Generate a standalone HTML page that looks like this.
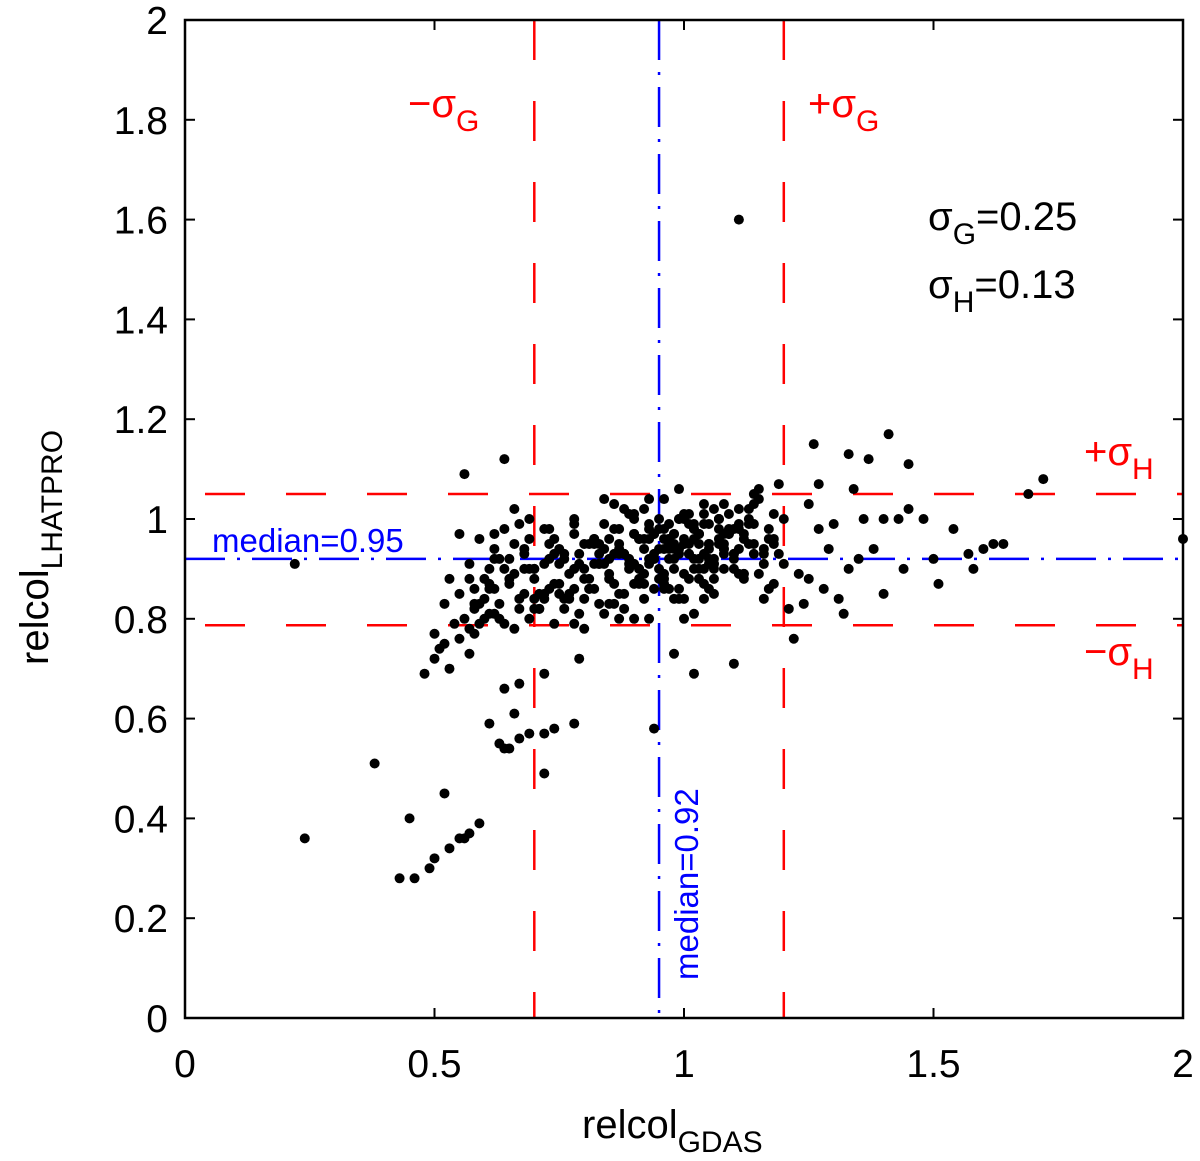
<!DOCTYPE html>
<html><head><meta charset="utf-8"><style>
html,body{margin:0;padding:0;background:#fff;}
svg{display:block;font-family:"Liberation Sans",sans-serif;}
</style></head><body>
<svg id="chart" width="1200" height="1161" viewBox="0 0 1200 1161">
<g id="grid-lines"></g>
<g id="points"></g>
<g id="axes"></g>
<g id="labels"></g>
</svg>
<script>
const xTicks=[0,0.5,1,1.5,2];
const xTickLabels=["0","0.5","1","1.5","2"];
const yTicks=[0,0.2,0.4,0.6,0.8,1,1.2,1.4,1.6,1.8,2];
const yTickLabels=["0","0.2","0.4","0.6","0.8","1","1.2","1.4","1.6","1.8","2"];
const sigmaGLines=[0.70,1.20];
const sigmaHLines=[1.05,0.787];
const medianX=0.95;
const medianY=0.92;
const pointsX=[0.24,0.22,0.38,0.43,0.46,0.45,0.52,0.49,0.50,0.53,0.55,0.57,0.59,0.56,0.64,1.11,
0.63,0.64,0.65,0.67,0.69,0.72,0.74,0.78,0.72,0.94,0.66,0.64,0.61,0.67,0.72,0.79,0.98,1.02,1.10,1.22,0.48,0.50,0.51,0.52,0.55,0.53,
1.26,1.33,1.41,1.37,1.45,1.34,1.72,1.69,2.0,1.64,1.62,1.60,1.57,1.58,1.54,1.51,1.45,1.43,1.48,1.38,1.35,1.40,1.32,1.50,1.30,1.36,1.40,1.27,1.29,1.33,1.25,1.23,1.28,1.31,1.24,1.21,1.44,1.25,1.19,1.27,
0.56,0.57,0.58,0.59,0.60,0.61,0.62,0.63,0.54,0.55,0.57,0.58,0.60,0.61,0.63,0.65,0.66,0.67,0.68,0.69,0.70,0.71,0.72,0.73,0.74,0.75,0.76,0.77,0.78,0.79,
0.80,0.81,0.82,0.83,0.84,0.85,0.86,0.87,0.88,0.89,0.90,0.91,0.92,0.93,0.94,0.95,0.96,0.97,0.98,0.99,1.00,1.01,1.02,1.03,1.04,1.05,1.06,1.07,1.08,1.09,
1.10,1.11,1.12,1.13,1.14,1.15,1.16,1.17,1.18,0.60,0.62,0.64,0.66,0.68,0.70,0.72,0.74,0.76,0.78,0.80,0.82,0.84,0.86,0.88,0.90,0.92,0.94,0.96,0.98,1.00,
1.02,1.04,1.06,1.08,1.10,1.12,1.14,1.16,1.18,1.20,0.65,0.67,0.69,0.71,0.73,0.75,0.77,0.79,0.81,0.83,0.85,0.87,0.89,0.91,0.93,0.95,0.97,0.99,1.01,1.03,
1.05,1.07,1.09,1.11,1.13,1.15,1.17,1.19,0.58,0.62,0.66,0.70,0.74,0.78,0.82,0.86,0.90,0.94,0.98,1.02,1.06,1.10,1.14,1.18,0.76,0.80,0.84,0.88,0.92,0.96,
1.00,1.04,1.08,1.12,0.83,0.87,0.91,0.95,0.99,1.03,1.07,1.11,0.85,0.89,0.93,0.97,1.01,1.05,1.09,0.88,0.92,0.96,1.00,1.04,0.90,0.94,0.98,1.02,1.06,1.08,
0.95,0.97,0.99,1.01,1.03,1.05,1.07,0.70,0.75,0.80,0.85,0.90,0.96,1.00,1.04,1.08,1.13,1.17,0.68,0.73,0.78,0.83,0.88,0.93,1.00,1.05,1.15,0.53,0.56,0.58,
0.61,0.64,0.69,0.72,0.78,0.82,0.87,0.91,0.97,1.02,1.07,1.12,1.16,0.93,0.96,0.99,1.03,1.06,1.10,0.86,0.92,0.98,1.04,
0.55,0.57,0.59,0.61,0.63,0.65,0.67,0.69,0.71,0.73,0.75,0.77,0.79,0.81,0.83,0.85,0.87,0.89,0.91,0.93,0.95,0.97,0.99,1.01,1.03,1.05,1.07,1.09,1.11,1.13,
0.62,0.66,0.70,0.74,0.78,0.82,0.86,0.90,0.94,0.98,1.02,1.06,1.10,1.14,1.18,0.64,0.68,0.72,0.76,0.80,0.84,0.88,0.92,0.96,1.00,1.04,1.08,1.12,1.16,1.20,
0.81,0.84,0.87,0.90,0.93,0.96,0.99,1.02,1.05,1.08,1.11,1.14,0.97,1.00,1.03,1.06,0.91,0.94,0.98,1.01,0.59,0.62,0.50,0.52,0.57];
const pointsY=[0.36,0.91,0.51,0.28,0.28,0.40,0.45,0.30,0.32,0.34,0.36,0.37,0.39,0.36,1.12,1.60,
0.55,0.54,0.54,0.56,0.57,0.57,0.58,0.59,0.49,0.58,0.61,0.66,0.59,0.67,0.69,0.72,0.73,0.69,0.71,0.76,0.69,0.72,0.74,0.75,0.76,0.70,
1.15,1.13,1.17,1.12,1.11,1.06,1.08,1.05,0.96,0.95,0.95,0.94,0.93,0.90,0.98,0.87,1.02,1.00,1.00,0.94,0.92,0.85,0.81,0.92,0.99,1.00,1.00,0.98,0.94,0.90,0.88,0.89,0.86,0.84,0.83,0.82,0.90,1.03,1.07,1.07,
0.80,0.78,0.82,0.79,0.84,0.81,0.86,0.83,0.79,0.85,0.88,0.77,0.80,0.90,0.92,0.87,0.78,0.84,0.93,0.80,0.88,0.82,0.91,0.86,0.79,0.94,0.84,0.89,0.97,0.81,
0.90,0.86,0.95,0.83,0.99,0.88,0.93,0.85,1.02,0.91,0.87,0.96,0.84,0.99,0.92,1.00,0.89,0.95,0.97,0.86,1.01,0.93,0.98,0.90,1.03,0.95,0.88,1.00,0.94,0.97,
0.92,1.02,0.89,0.99,0.95,1.04,0.93,0.98,1.01,0.88,0.92,0.79,0.95,0.85,0.90,0.98,0.87,0.93,1.00,0.84,0.96,0.91,1.03,0.82,0.97,0.94,0.86,1.04,0.92,0.96,
0.99,0.87,1.02,0.95,0.90,0.97,1.05,0.91,0.96,1.00,0.92,0.99,1.00,0.82,0.95,0.91,0.85,0.93,0.88,0.95,0.83,0.98,1.01,0.87,0.96,0.90,0.99,1.06,0.93,0.97,
0.91,1.00,0.98,0.94,1.02,0.89,0.96,0.93,0.86,0.81,0.89,0.84,0.96,0.99,0.91,0.87,1.00,0.97,0.94,0.90,0.92,0.98,1.03,0.87,0.92,0.88,0.94,0.93,1.02,0.87,
0.95,1.01,0.93,0.96,0.91,0.95,0.90,0.94,0.94,0.97,1.00,0.89,0.96,0.92,0.98,0.92,0.99,0.94,0.97,0.93,0.96,0.98,0.95,0.99,1.01,0.93,0.90,0.96,0.91,1.03,
0.88,0.86,0.84,0.88,0.92,0.86,0.98,0.82,0.85,0.78,0.92,0.80,0.88,0.84,0.93,0.90,0.95,0.86,0.90,0.98,0.79,0.91,0.85,1.04,0.80,0.92,1.06,0.88,1.09,0.83,
0.87,0.90,0.96,0.84,0.90,0.86,0.80,0.88,0.96,0.81,0.95,0.88,0.84,0.80,0.86,0.93,0.95,0.85,0.93,0.98,0.89,0.95,0.90,0.97,0.91,
0.83,0.86,0.80,0.88,0.82,0.90,0.85,0.92,0.87,0.84,0.91,0.86,0.93,0.89,0.94,0.90,0.96,0.92,0.98,0.94,1.00,0.95,0.97,0.99,0.96,1.01,0.98,1.00,0.97,1.02,
0.90,0.93,0.86,0.96,0.83,0.91,0.97,0.84,0.98,0.90,0.93,0.99,0.95,0.98,0.94,0.85,0.82,0.95,0.81,0.93,0.87,0.96,0.89,0.84,0.94,0.89,0.94,0.91,0.95,1.04,
0.93,0.97,0.91,0.94,1.00,0.92,0.95,0.97,0.99,0.93,0.96,1.00,0.88,0.91,0.90,0.92,0.97,1.01,0.96,0.94,0.77,0.83,0.73,0.77,0.72];
const L=185,R=1183,T=20,B=1018;
const sx=v=>L+(R-L)*v/2;
const sy=v=>B-(B-T)*v/2;
const NS="http://www.w3.org/2000/svg";
function mk(tag,attrs,parent){const e=document.createElementNS(NS,tag);for(const k in attrs)e.setAttribute(k,attrs[k]);parent.appendChild(e);return e;}
const gl=document.getElementById('grid-lines');
sigmaGLines.forEach(v=>{const l=mk('line',{x1:sx(v),x2:sx(v),y1:T,y2:B,stroke:'#f00','stroke-width':2.5,'stroke-dasharray':'40 41'},gl);

});
sigmaHLines.forEach(v=>{const l=mk('line',{x1:L,x2:R,y1:sy(v),y2:sy(v),stroke:'#f00','stroke-width':2.5,'stroke-dasharray':'40 41','stroke-dashoffset':-20},gl);

});
const mv=mk('line',{x1:sx(medianX),x2:sx(medianX),y1:T,y2:B,stroke:'#00f','stroke-width':2.5,'stroke-dasharray':'40 12 3 12'},gl);


const mh=mk('line',{x1:L,x2:R,y1:sy(medianY),y2:sy(medianY),stroke:'#00f','stroke-width':2.5,'stroke-dasharray':'40 12 3 12'},gl);


const pg=document.getElementById('points');
for(let i=0;i<pointsX.length;i++){const c=mk('circle',{cx:sx(pointsX[i]),cy:sy(pointsY[i]),r:5,fill:'#000'},pg);

}
const ax=document.getElementById('axes');
const box=mk('rect',{x:L,y:T,width:R-L,height:B-T,fill:'none',stroke:'#000','stroke-width':2.5},ax);


xTicks.forEach((v,i)=>{mk('line',{x1:sx(v),x2:sx(v),y1:B,y2:B-10,stroke:'#000','stroke-width':2},ax);
mk('line',{x1:sx(v),x2:sx(v),y1:T,y2:T+10,stroke:'#000','stroke-width':2},ax);
const t=mk('text',{x:sx(v),y:1077,'font-size':39,'text-anchor':'middle'},ax);t.textContent=xTickLabels[i];

});
yTicks.forEach((v,i)=>{mk('line',{x1:L,x2:L+10,y1:sy(v),y2:sy(v),stroke:'#000','stroke-width':2},ax);
mk('line',{x1:R,x2:R-10,y1:sy(v),y2:sy(v),stroke:'#000','stroke-width':2},ax);
const t=mk('text',{x:168,y:sy(v)+14,'font-size':39,'text-anchor':'end'},ax);t.textContent=yTickLabels[i];

});
</script>
<svg width="1200" height="1161" style="position:absolute;left:0;top:0" font-family="Liberation Sans, DejaVu Sans, sans-serif">
<text x="582" y="1138" font-size="40">relcol<tspan font-size="30" dy="14">GDAS</tspan></text>
<text transform="translate(48,665) rotate(-90)" font-size="40">relcol<tspan font-size="30" dy="14">LHATPRO</tspan></text>
<text x="408" y="117" font-size="40" fill="#f00">−σ<tspan font-size="30" dy="14">G</tspan></text>
<text x="808" y="117" font-size="40" fill="#f00">+σ<tspan font-size="30" dy="14">G</tspan></text>
<text x="1084" y="465" font-size="40" fill="#f00">+σ<tspan font-size="30" dy="14">H</tspan></text>
<text x="1084" y="665" font-size="40" fill="#f00">−σ<tspan font-size="30" dy="14">H</tspan></text>
<text x="928" y="230" font-size="40">σ<tspan font-size="30" dy="14">G</tspan><tspan dy="-14">=0.25</tspan></text>
<text x="928" y="298" font-size="40">σ<tspan font-size="30" dy="14">H</tspan><tspan dy="-14">=0.13</tspan></text>
<text x="212" y="552" font-size="33" fill="#00f">median=0.95</text>
<text transform="translate(698,980) rotate(-90)" font-size="33" fill="#00f">median=0.92</text>
</svg>
</body></html>
